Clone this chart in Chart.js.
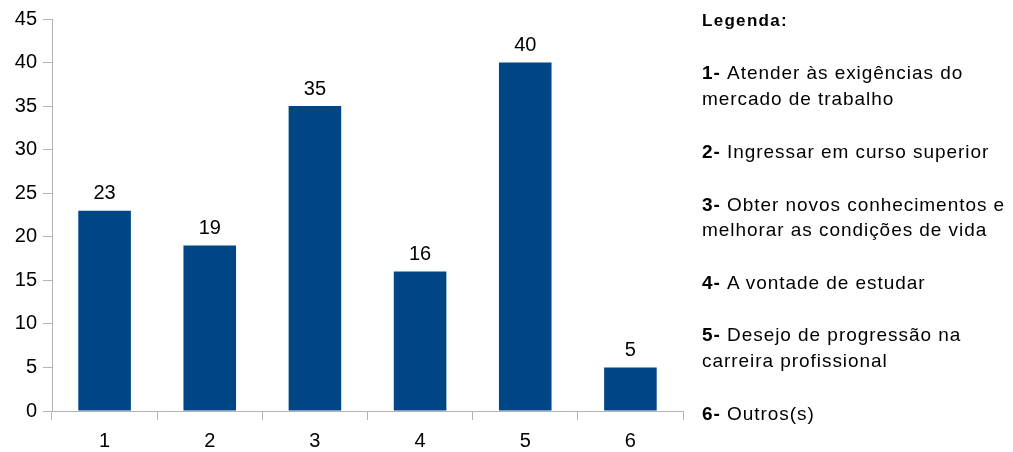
<!DOCTYPE html>
<html>
<head>
<meta charset="utf-8">
<script src="https://cdn.jsdelivr.net/npm/chart.js@4/dist/chart.umd.min.js"></script>
<style>
  html, body { margin: 0; padding: 0; background: #fff; }
  #wrap { position: relative; width: 1013px; height: 452px; overflow: hidden; }
  #chartBox { position: absolute; left: 0; top: 0; width: 1013px; height: 452px; }
  #legend { position: absolute; left: 702px; top: 0; font-family: "Liberation Sans", Arial, sans-serif; font-size: 19px; letter-spacing: 0.95px; color: #000; }
  #legend div { position: absolute; left: 0; white-space: nowrap; line-height: 26px; }
  #legend div.title { font-size: 17px; letter-spacing: 1.3px; font-weight: bold; }
</style>
</head>
<body>
<div id="wrap">
  <div id="chartBox"><canvas id="c" width="1013" height="452"></canvas></div>
  <div id="legend"></div>
</div>
<script>
const categories = ["1", "2", "3", "4", "5", "6"];
const values = [23, 19, 35, 16, 40, 5];
const yTicks = [0, 5, 10, 15, 20, 25, 30, 35, 40, 45];
const legendTitle = "Legenda:";
const legendNumbers = ["1-", "2-", "3-", "4-", "5-", "6-"];
const legendTexts = [
  ["Atender às exigências do", "mercado de trabalho"],
  ["Ingressar em curso superior"],
  ["Obter novos conhecimentos e", "melhorar as condições de vida"],
  ["A vontade de estudar"],
  ["Desejo de progressão na", "carreira profissional"],
  ["Outros(s)"]
];

// Legend (HTML text)
const legendEl = document.getElementById('legend');
const lineTops = [[60, 86], [139], [192, 217], [270], [322, 348], [401]];
const t = document.createElement('div');
t.className = 'title';
t.style.top = '8px'; t.textContent = legendTitle;
legendEl.appendChild(t);
legendTexts.forEach((lines, i) => {
  lines.forEach((ln, j) => {
    const d = document.createElement('div');
    d.style.top = lineTops[i][j] + 'px';
    if (j === 0) {
      const b = document.createElement('b');
      b.textContent = legendNumbers[i] + ' ';
      d.appendChild(b);
    }
    d.appendChild(document.createTextNode(ln));
    legendEl.appendChild(d);
  });
});

const valueLabels = {
  id: 'valueLabels',
  afterDatasetsDraw(chart) {
    const ctx = chart.ctx;
    const meta = chart.getDatasetMeta(0);
    ctx.save();
    ctx.font = '20px "Liberation Sans", Arial, sans-serif';
    ctx.fillStyle = '#000';
    ctx.textAlign = 'center';
    ctx.textBaseline = 'bottom';
    meta.data.forEach((bar, i) => {
      ctx.fillText(String(values[i]), bar.x, bar.y - 7);
    });
    ctx.restore();
  }
};

const axisColor = '#b3b3b3';
new Chart(document.getElementById('c'), {
  type: 'bar',
  data: {
    labels: categories,
    datasets: [{
      data: values,
      backgroundColor: '#004586',
      borderWidth: 0,
      barPercentage: 0.5,
      categoryPercentage: 1.0
    }]
  },
  plugins: [valueLabels],
  options: {
    responsive: false,
    animation: false,
    maintainAspectRatio: false,
    layout: { padding: { top: 19, right: 330, left: 0, bottom: 0 } },
    plugins: { legend: { display: false }, tooltip: { enabled: false } },
    scales: {
      x: {
        offset: true,
        grid: { display: true, drawOnChartArea: false, offset: true, tickLength: 9, color: axisColor, lineWidth: 1 },
        border: { display: true, color: axisColor, width: 1 },
        ticks: { color: '#000', font: { family: '"Liberation Sans", Arial, sans-serif', size: 20 }, padding: 9, maxRotation: 0 },
        afterFit(scale) { scale.height = 41; }
      },
      y: {
        min: 0, max: 45,
        afterBuildTicks(scale) { scale.ticks = yTicks.map(v => ({ value: v })); },
        grid: { display: true, drawOnChartArea: false, tickLength: 9, color: axisColor, lineWidth: 1 },
        border: { display: true, color: axisColor, width: 1 },
        ticks: { color: '#000', font: { family: '"Liberation Sans", Arial, sans-serif', size: 20 }, padding: 6 },
        afterFit(scale) { scale.width = 52; }
      }
    }
  }
});
</script>
</body>
</html>
